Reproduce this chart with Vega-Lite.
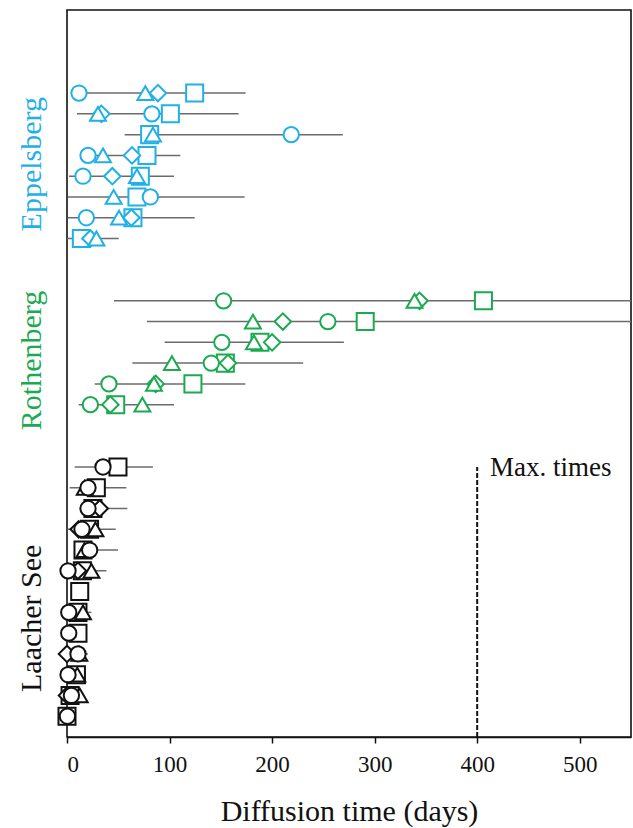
{
  "$schema": "https://vega.github.io/schema/vega-lite/v6.json",
  "autosize": "none",
  "width": 564,
  "height": 727,
  "padding": {"left": 67, "top": 10, "right": 2, "bottom": 91},
  "background": "white",
  "config": {
    "font": "Liberation Serif",
    "view": {"stroke": "#111", "strokeWidth": 1.6},
    "axis": {"labelFont": "Liberation Serif", "titleFont": "Liberation Serif", "grid": false}
  },
  "datasets": {
    "pts": [
      {"site": "Eppelsberg", "row": 31, "marker": "square", "days": 124.5},
      {"site": "Eppelsberg", "row": 30, "marker": "square", "days": 100.8},
      {"site": "Eppelsberg", "row": 29, "marker": "square", "days": 80.6},
      {"site": "Eppelsberg", "row": 28, "marker": "square", "days": 78},
      {"site": "Eppelsberg", "row": 27, "marker": "square", "days": 71.5},
      {"site": "Eppelsberg", "row": 26, "marker": "square", "days": 68.2},
      {"site": "Eppelsberg", "row": 25, "marker": "square", "days": 64.3},
      {"site": "Eppelsberg", "row": 24, "marker": "square", "days": 14},
      {"site": "Rothenberg", "row": 21, "marker": "square", "days": 406.1},
      {"site": "Rothenberg", "row": 20, "marker": "square", "days": 290.8},
      {"site": "Rothenberg", "row": 19, "marker": "square", "days": 188.2},
      {"site": "Rothenberg", "row": 18, "marker": "square", "days": 154.4},
      {"site": "Rothenberg", "row": 17, "marker": "square", "days": 122.8},
      {"site": "Rothenberg", "row": 16, "marker": "square", "days": 47.5},
      {"site": "Laacher See", "row": 13, "marker": "square", "days": 49.7},
      {"site": "Laacher See", "row": 12, "marker": "square", "days": 28.6},
      {"site": "Laacher See", "row": 11, "marker": "square", "days": 25.3},
      {"site": "Laacher See", "row": 10, "marker": "square", "days": 22},
      {"site": "Laacher See", "row": 9, "marker": "square", "days": 15.6},
      {"site": "Laacher See", "row": 8, "marker": "square", "days": 15},
      {"site": "Laacher See", "row": 7, "marker": "square", "days": 12.4},
      {"site": "Laacher See", "row": 6, "marker": "square", "days": 10.7},
      {"site": "Laacher See", "row": 5, "marker": "square", "days": 10.7},
      {"site": "Laacher See", "row": 3, "marker": "square", "days": 9.2},
      {"site": "Laacher See", "row": 2, "marker": "square", "days": 3},
      {"site": "Laacher See", "row": 1, "marker": "square", "days": 0},
      {"site": "Eppelsberg", "row": 31, "marker": "diamond", "days": 88.7},
      {"site": "Eppelsberg", "row": 30, "marker": "diamond", "days": 33.5},
      {"site": "Eppelsberg", "row": 28, "marker": "diamond", "days": 63.4},
      {"site": "Eppelsberg", "row": 27, "marker": "diamond", "days": 44.2},
      {"site": "Eppelsberg", "row": 25, "marker": "diamond", "days": 62.8},
      {"site": "Eppelsberg", "row": 24, "marker": "diamond", "days": 22.8},
      {"site": "Rothenberg", "row": 21, "marker": "diamond", "days": 343.8},
      {"site": "Rothenberg", "row": 20, "marker": "diamond", "days": 210.5},
      {"site": "Rothenberg", "row": 19, "marker": "diamond", "days": 200},
      {"site": "Rothenberg", "row": 18, "marker": "diamond", "days": 157},
      {"site": "Rothenberg", "row": 17, "marker": "diamond", "days": 86.5},
      {"site": "Rothenberg", "row": 16, "marker": "diamond", "days": 42.3},
      {"site": "Laacher See", "row": 11, "marker": "diamond", "days": 31.9},
      {"site": "Laacher See", "row": 10, "marker": "diamond", "days": 11.4},
      {"site": "Laacher See", "row": 8, "marker": "diamond", "days": 10.7},
      {"site": "Laacher See", "row": 4, "marker": "diamond", "days": 0},
      {"site": "Laacher See", "row": 2, "marker": "diamond", "days": 0},
      {"site": "Eppelsberg", "row": 31, "marker": "triangle", "days": 76.4},
      {"site": "Eppelsberg", "row": 30, "marker": "triangle", "days": 30.2},
      {"site": "Eppelsberg", "row": 29, "marker": "triangle", "days": 83.8},
      {"site": "Eppelsberg", "row": 28, "marker": "triangle", "days": 35.1},
      {"site": "Eppelsberg", "row": 27, "marker": "triangle", "days": 68.2},
      {"site": "Eppelsberg", "row": 26, "marker": "triangle", "days": 45.5},
      {"site": "Eppelsberg", "row": 25, "marker": "triangle", "days": 50.7},
      {"site": "Eppelsberg", "row": 24, "marker": "triangle", "days": 28.7},
      {"site": "Rothenberg", "row": 21, "marker": "triangle", "days": 338.9},
      {"site": "Rothenberg", "row": 20, "marker": "triangle", "days": 181.3},
      {"site": "Rothenberg", "row": 19, "marker": "triangle", "days": 182.3},
      {"site": "Rothenberg", "row": 18, "marker": "triangle", "days": 102.3},
      {"site": "Rothenberg", "row": 17, "marker": "triangle", "days": 84.8},
      {"site": "Rothenberg", "row": 16, "marker": "triangle", "days": 73.5},
      {"site": "Laacher See", "row": 12, "marker": "triangle", "days": 17.3},
      {"site": "Laacher See", "row": 10, "marker": "triangle", "days": 27.7},
      {"site": "Laacher See", "row": 9, "marker": "triangle", "days": 17},
      {"site": "Laacher See", "row": 8, "marker": "triangle", "days": 23.8},
      {"site": "Laacher See", "row": 6, "marker": "triangle", "days": 15.6},
      {"site": "Laacher See", "row": 4, "marker": "triangle", "days": 12},
      {"site": "Laacher See", "row": 3, "marker": "triangle", "days": 10},
      {"site": "Laacher See", "row": 2, "marker": "triangle", "days": 12.4},
      {"site": "Eppelsberg", "row": 31, "marker": "circle", "days": 11.7},
      {"site": "Eppelsberg", "row": 30, "marker": "circle", "days": 82.8},
      {"site": "Eppelsberg", "row": 29, "marker": "circle", "days": 218.7},
      {"site": "Eppelsberg", "row": 28, "marker": "circle", "days": 20.5},
      {"site": "Eppelsberg", "row": 27, "marker": "circle", "days": 15.6},
      {"site": "Eppelsberg", "row": 26, "marker": "circle", "days": 81.3},
      {"site": "Eppelsberg", "row": 25, "marker": "circle", "days": 18.9},
      {"site": "Rothenberg", "row": 21, "marker": "circle", "days": 152.7},
      {"site": "Rothenberg", "row": 20, "marker": "circle", "days": 254.4},
      {"site": "Rothenberg", "row": 19, "marker": "circle", "days": 151},
      {"site": "Rothenberg", "row": 18, "marker": "circle", "days": 140.7},
      {"site": "Rothenberg", "row": 17, "marker": "circle", "days": 40.9},
      {"site": "Rothenberg", "row": 16, "marker": "circle", "days": 22.8},
      {"site": "Laacher See", "row": 13, "marker": "circle", "days": 35.1},
      {"site": "Laacher See", "row": 12, "marker": "circle", "days": 20.5},
      {"site": "Laacher See", "row": 11, "marker": "circle", "days": 20.5},
      {"site": "Laacher See", "row": 10, "marker": "circle", "days": 14.6},
      {"site": "Laacher See", "row": 9, "marker": "circle", "days": 22.1},
      {"site": "Laacher See", "row": 8, "marker": "circle", "days": 1},
      {"site": "Laacher See", "row": 6, "marker": "circle", "days": 1.7},
      {"site": "Laacher See", "row": 5, "marker": "circle", "days": 1.7},
      {"site": "Laacher See", "row": 4, "marker": "circle", "days": 10.7},
      {"site": "Laacher See", "row": 3, "marker": "circle", "days": 1},
      {"site": "Laacher See", "row": 2, "marker": "circle", "days": 4.3},
      {"site": "Laacher See", "row": 1, "marker": "circle", "days": 0.4}
    ],
    "ranges": [
      {"site": "Eppelsberg", "row": 31, "lo": 11, "hi": 174.2},
      {"site": "Eppelsberg", "row": 30, "lo": 9.7, "hi": 167.3},
      {"site": "Eppelsberg", "row": 29, "lo": 56.2, "hi": 269},
      {"site": "Eppelsberg", "row": 28, "lo": 20, "hi": 110.5},
      {"site": "Eppelsberg", "row": 27, "lo": 2, "hi": 104.3},
      {"site": "Eppelsberg", "row": 26, "lo": 1, "hi": 173.2},
      {"site": "Eppelsberg", "row": 25, "lo": 0.5, "hi": 124.5},
      {"site": "Eppelsberg", "row": 24, "lo": 0, "hi": 50.4},
      {"site": "Rothenberg", "row": 21, "lo": 45.8, "hi": 560},
      {"site": "Rothenberg", "row": 20, "lo": 78, "hi": 560},
      {"site": "Rothenberg", "row": 19, "lo": 95.2, "hi": 270},
      {"site": "Rothenberg", "row": 18, "lo": 63.7, "hi": 230.3},
      {"site": "Rothenberg", "row": 17, "lo": 27, "hi": 173.9},
      {"site": "Rothenberg", "row": 16, "lo": 11.4, "hi": 104.3},
      {"site": "Laacher See", "row": 13, "lo": 7.5, "hi": 83.8},
      {"site": "Laacher See", "row": 12, "lo": 2.6, "hi": 57.9},
      {"site": "Laacher See", "row": 11, "lo": 12.4, "hi": 58.9},
      {"site": "Laacher See", "row": 10, "lo": 0.4, "hi": 47.5},
      {"site": "Laacher See", "row": 9, "lo": 12, "hi": 49.7},
      {"site": "Laacher See", "row": 8, "lo": 0, "hi": 38.4},
      {"site": "Laacher See", "row": 7, "lo": 10, "hi": 21.5},
      {"site": "Laacher See", "row": 6, "lo": 0, "hi": 23.8},
      {"site": "Laacher See", "row": 5, "lo": 0, "hi": 12},
      {"site": "Laacher See", "row": 4, "lo": 0, "hi": 20.5},
      {"site": "Laacher See", "row": 3, "lo": 0, "hi": 12},
      {"site": "Laacher See", "row": 2, "lo": 0, "hi": 15},
      {"site": "Laacher See", "row": 1, "lo": 0, "hi": 2}
    ],
    "maxline": [{"days": 400, "from": 0, "to": 13, "label": "Max. times", "labelX": 412.6, "labelY": 12.56}]
  },
  "layer": [
    {
      "data": {"name": "ranges"},
      "mark": {"type": "rule", "color": "#6b6b6b", "strokeWidth": 1.5, "clip": true},
      "encoding": {
        "x": {"field": "lo", "type": "quantitative", "scale": {"domain": [0, 550], "nice": false, "zero": false},
          "axis": {"values": [0, 100, 200, 300, 400, 500], "title": "Diffusion time (days)", "titleFont": "Liberation Serif", "titleFontSize": 30, "titleFontWeight": "normal", "titleColor": "#111", "titlePadding": 20, "labelFont": "Liberation Serif", "labelFontSize": 23, "labelColor": "#111", "labelPadding": 10, "tickSize": 6, "tickColor": "#111", "tickWidth": 1.5, "domainColor": "#111", "domainWidth": 1.6}},
        "x2": {"field": "hi"},
        "y": {"field": "row", "type": "quantitative", "scale": {"domain": [0, 35], "nice": false, "zero": false},
          "axis": {"values": [5.74, 18.15, 27.6], "title": null, "ticks": false, "domain": false,
            "labelExpr": "datum.value < 10 ? 'Laacher See' : datum.value < 20 ? 'Rothenberg' : 'Eppelsberg'",
            "labelFont": "Liberation Serif",
            "labelAngle": -90, "labelAlign": "center", "labelBaseline": "bottom", "labelFontSize": 30, "labelPadding": 21,
            "labelColor": {"condition": [{"test": "datum.value < 10", "value": "#111111"}, {"test": "datum.value < 20", "value": "#1aaa50"}], "value": "#1fb0e8"}}}
      }
    },
    {
      "data": {"name": "pts"},
      "mark": {"type": "point", "filled": true, "fill": "white", "strokeWidth": 2, "opacity": 1},
      "encoding": {
        "x": {"field": "days", "type": "quantitative"},
        "y": {"field": "row", "type": "quantitative"},
        "shape": {"field": "marker", "type": "nominal", "legend": null,
          "scale": {"domain": ["circle", "triangle", "diamond", "square"], "range": ["circle", "triangle-up", "diamond", "square"]}},
        "size": {"field": "marker", "type": "nominal", "legend": null,
          "scale": {"domain": ["circle", "triangle", "diamond", "square"], "range": [235, 290, 240, 225]}},
        "stroke": {"field": "site", "type": "nominal", "legend": null,
          "scale": {"domain": ["Eppelsberg", "Rothenberg", "Laacher See"], "range": ["#1fb0e8", "#1aaa50", "#111111"]}}
      }
    },
    {
      "data": {"name": "maxline"},
      "mark": {"type": "rule", "color": "#111", "strokeWidth": 2, "strokeDash": [5, 2]},
      "encoding": {
        "x": {"field": "days", "type": "quantitative"},
        "y": {"field": "from", "type": "quantitative"},
        "y2": {"field": "to"}
      }
    },
    {
      "data": {"name": "maxline"},
      "mark": {"type": "text", "align": "left", "baseline": "alphabetic", "fontSize": 27, "color": "#111", "font": "Liberation Serif"},
      "encoding": {
        "x": {"field": "labelX", "type": "quantitative"},
        "y": {"field": "labelY", "type": "quantitative"},
        "text": {"field": "label"}
      }
    }
  ]
}
